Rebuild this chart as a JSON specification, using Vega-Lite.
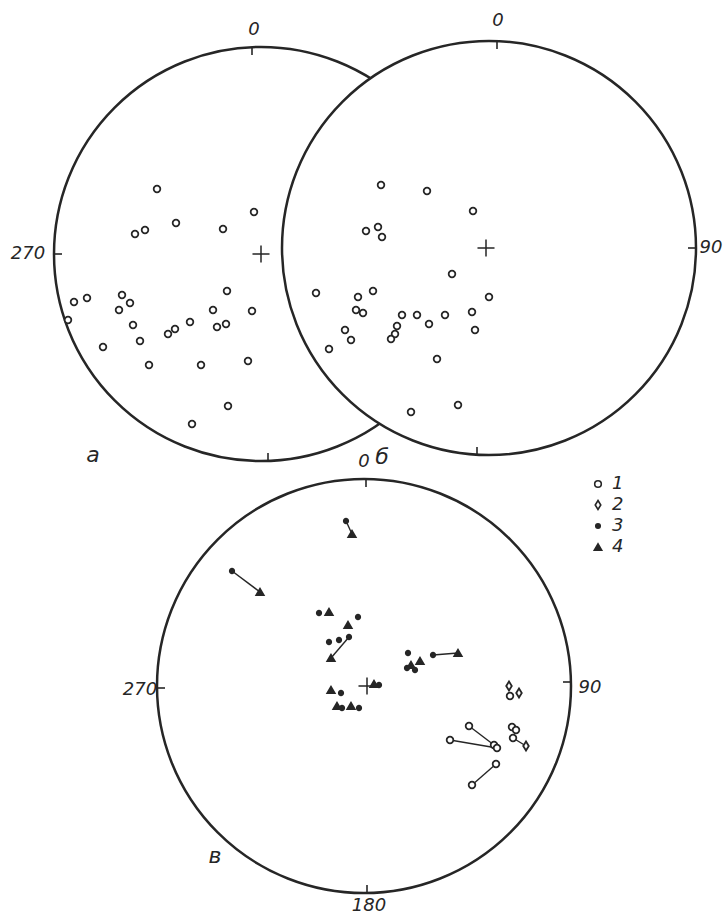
{
  "$schema": "https://vega.github.io/schema/vega-lite/v6.json",
  "width": 724,
  "height": 919,
  "autosize": {"type": "none"},
  "padding": 0,
  "background": "white",
  "config": {"view": {"stroke": null}},
  "datasets": {
    "disks": [
      {"id": "а", "x": 261, "y": 254},
      {"id": "б", "x": 489, "y": 248},
      {"id": "в", "x": 364, "y": 686}
    ],
    "ticks": [
      {"x": 252, "y": 47, "x2": 252, "y2": 55},
      {"x": 54, "y": 254, "x2": 62, "y2": 254},
      {"x": 268, "y": 453, "x2": 268, "y2": 461},
      {"x": 497, "y": 41, "x2": 497, "y2": 49},
      {"x": 696, "y": 248, "x2": 688, "y2": 248},
      {"x": 477, "y": 447, "x2": 477, "y2": 455},
      {"x": 366, "y": 479, "x2": 366, "y2": 487},
      {"x": 571, "y": 682, "x2": 563, "y2": 682},
      {"x": 367, "y": 885, "x2": 367, "y2": 893},
      {"x": 157, "y": 688, "x2": 165, "y2": 688}
    ],
    "centers": [
      {"x": 261, "y": 254},
      {"x": 486, "y": 248},
      {"x": 367, "y": 686}
    ],
    "links": [
      {"pair": "p1", "x": 346, "y": 521}, {"pair": "p1", "x": 352, "y": 534},
      {"pair": "p2", "x": 232, "y": 571}, {"pair": "p2", "x": 260, "y": 592},
      {"pair": "p3", "x": 349, "y": 637}, {"pair": "p3", "x": 331, "y": 658},
      {"pair": "p4", "x": 433, "y": 655}, {"pair": "p4", "x": 458, "y": 653},
      {"pair": "p5", "x": 469, "y": 726}, {"pair": "p5", "x": 494, "y": 745},
      {"pair": "p6", "x": 450, "y": 740}, {"pair": "p6", "x": 497, "y": 748},
      {"pair": "p7", "x": 496, "y": 764}, {"pair": "p7", "x": 472, "y": 785},
      {"pair": "p8", "x": 513, "y": 738}, {"pair": "p8", "x": 526, "y": 746}
    ],
    "points": [
      {"type": "1", "x": 157, "y": 189}, {"type": "1", "x": 254, "y": 212}, {"type": "1", "x": 176, "y": 223},
      {"type": "1", "x": 223, "y": 229}, {"type": "1", "x": 145, "y": 230}, {"type": "1", "x": 135, "y": 234},
      {"type": "1", "x": 74, "y": 302}, {"type": "1", "x": 87, "y": 298}, {"type": "1", "x": 122, "y": 295},
      {"type": "1", "x": 130, "y": 303}, {"type": "1", "x": 119, "y": 310}, {"type": "1", "x": 227, "y": 291},
      {"type": "1", "x": 213, "y": 310}, {"type": "1", "x": 252, "y": 311}, {"type": "1", "x": 68, "y": 320},
      {"type": "1", "x": 190, "y": 322}, {"type": "1", "x": 133, "y": 325}, {"type": "1", "x": 175, "y": 329},
      {"type": "1", "x": 168, "y": 334}, {"type": "1", "x": 217, "y": 327}, {"type": "1", "x": 226, "y": 324},
      {"type": "1", "x": 103, "y": 347}, {"type": "1", "x": 140, "y": 341}, {"type": "1", "x": 149, "y": 365},
      {"type": "1", "x": 201, "y": 365}, {"type": "1", "x": 248, "y": 361}, {"type": "1", "x": 228, "y": 406},
      {"type": "1", "x": 192, "y": 424},
      {"type": "1", "x": 381, "y": 185}, {"type": "1", "x": 427, "y": 191}, {"type": "1", "x": 473, "y": 211},
      {"type": "1", "x": 378, "y": 227}, {"type": "1", "x": 366, "y": 231}, {"type": "1", "x": 382, "y": 237},
      {"type": "1", "x": 452, "y": 274}, {"type": "1", "x": 316, "y": 293}, {"type": "1", "x": 358, "y": 297},
      {"type": "1", "x": 373, "y": 291}, {"type": "1", "x": 489, "y": 297}, {"type": "1", "x": 356, "y": 310},
      {"type": "1", "x": 363, "y": 313}, {"type": "1", "x": 402, "y": 315}, {"type": "1", "x": 417, "y": 315},
      {"type": "1", "x": 445, "y": 315}, {"type": "1", "x": 472, "y": 312}, {"type": "1", "x": 429, "y": 324},
      {"type": "1", "x": 397, "y": 326}, {"type": "1", "x": 395, "y": 334}, {"type": "1", "x": 391, "y": 339},
      {"type": "1", "x": 345, "y": 330}, {"type": "1", "x": 351, "y": 340}, {"type": "1", "x": 475, "y": 330},
      {"type": "1", "x": 329, "y": 349}, {"type": "1", "x": 437, "y": 359}, {"type": "1", "x": 458, "y": 405},
      {"type": "1", "x": 411, "y": 412},
      {"type": "3", "x": 346, "y": 521}, {"type": "3", "x": 232, "y": 571}, {"type": "3", "x": 319, "y": 613},
      {"type": "3", "x": 358, "y": 617}, {"type": "3", "x": 329, "y": 642}, {"type": "3", "x": 339, "y": 640},
      {"type": "3", "x": 349, "y": 637}, {"type": "3", "x": 408, "y": 653}, {"type": "3", "x": 433, "y": 655},
      {"type": "3", "x": 407, "y": 668}, {"type": "3", "x": 415, "y": 670}, {"type": "3", "x": 379, "y": 685},
      {"type": "3", "x": 341, "y": 693}, {"type": "3", "x": 342, "y": 708}, {"type": "3", "x": 359, "y": 708},
      {"type": "4", "x": 352, "y": 534}, {"type": "4", "x": 260, "y": 592}, {"type": "4", "x": 329, "y": 612},
      {"type": "4", "x": 348, "y": 625}, {"type": "4", "x": 331, "y": 658}, {"type": "4", "x": 458, "y": 653},
      {"type": "4", "x": 411, "y": 665}, {"type": "4", "x": 420, "y": 661}, {"type": "4", "x": 374, "y": 684},
      {"type": "4", "x": 331, "y": 690}, {"type": "4", "x": 337, "y": 706}, {"type": "4", "x": 351, "y": 706},
      {"type": "1", "x": 510, "y": 696}, {"type": "1", "x": 512, "y": 727}, {"type": "1", "x": 516, "y": 730},
      {"type": "1", "x": 513, "y": 738}, {"type": "1", "x": 469, "y": 726}, {"type": "1", "x": 494, "y": 745},
      {"type": "1", "x": 450, "y": 740}, {"type": "1", "x": 497, "y": 748}, {"type": "1", "x": 496, "y": 764},
      {"type": "1", "x": 472, "y": 785},
      {"type": "2", "x": 509, "y": 686}, {"type": "2", "x": 519, "y": 693}, {"type": "2", "x": 526, "y": 746}
    ],
    "labels": [
      {"t": "0", "x": 254, "y": 30},
      {"t": "0", "x": 498, "y": 21},
      {"t": "270", "x": 28, "y": 254},
      {"t": "90", "x": 711, "y": 248},
      {"t": "0", "x": 364, "y": 462},
      {"t": "90", "x": 590, "y": 688},
      {"t": "270", "x": 140, "y": 690},
      {"t": "180", "x": 369, "y": 906}
    ],
    "letters": [
      {"t": "а", "x": 93, "y": 455},
      {"t": "б", "x": 382, "y": 457},
      {"t": "в", "x": 215, "y": 856}
    ]
  },
  "encoding": {
    "x": {"field": "x", "type": "quantitative", "scale": {"domain": [0, 724], "nice": false, "zero": false}, "axis": null},
    "y": {"field": "y", "type": "quantitative", "scale": {"domain": [0, 919], "reverse": true, "nice": false, "zero": false}, "axis": null}
  },
  "layer": [
    {
      "data": {"name": "disks"},
      "mark": {"type": "point", "shape": "circle", "filled": true, "fill": "white", "stroke": "#262626", "strokeWidth": 2.5, "size": 171396, "opacity": 1}
    },
    {
      "data": {"name": "ticks"},
      "mark": {"type": "rule", "stroke": "#262626", "strokeWidth": 1.6},
      "encoding": {"x2": {"field": "x2"}, "y2": {"field": "y2"}}
    },
    {
      "data": {"name": "centers"},
      "mark": {"type": "point", "shape": "M-1,0H1M0,-1V1", "filled": false, "stroke": "#262626", "strokeWidth": 1.5, "size": 290, "opacity": 1}
    },
    {
      "data": {"name": "links"},
      "mark": {"type": "line", "stroke": "#262626", "strokeWidth": 1.4},
      "encoding": {"detail": {"field": "pair"}}
    },
    {
      "data": {"name": "points"},
      "mark": {"type": "point", "filled": true, "stroke": "#262626", "strokeWidth": 1.8, "opacity": 1},
      "encoding": {
        "shape": {"field": "type", "type": "nominal", "scale": {"domain": ["1", "2", "3", "4"], "range": ["circle", "M0,-1L0.62,0L0,1L-0.62,0Z", "circle", "triangle-up"]},
          "legend": {"orient": "none", "legendX": 589, "legendY": 475, "title": null, "labelFont": "DejaVu Sans", "labelFontStyle": "italic", "labelFontSize": 18, "labelColor": "#262626", "symbolStrokeColor": "#262626", "symbolStrokeWidth": 1.6, "rowPadding": 3, "labelOffset": 5, "padding": 0, "symbolOpacity": 1}},
        "fill": {"field": "type", "type": "nominal", "scale": {"domain": ["1", "2", "3", "4"], "range": ["white", "white", "#262626", "#262626"]}},
        "size": {"field": "type", "type": "nominal", "scale": {"type": "ordinal", "domain": ["1", "2", "3", "4"], "range": [44, 80, 20, 55]}}
      }
    },
    {
      "data": {"name": "labels"},
      "mark": {"type": "text", "font": "DejaVu Sans", "fontStyle": "italic", "fontSize": 18, "fill": "#262626", "align": "center", "baseline": "middle"},
      "encoding": {"text": {"field": "t"}}
    },
    {
      "data": {"name": "letters"},
      "mark": {"type": "text", "font": "DejaVu Sans", "fontStyle": "italic", "fontSize": 22, "fill": "#262626", "align": "center", "baseline": "middle"},
      "encoding": {"text": {"field": "t"}}
    }
  ]
}
